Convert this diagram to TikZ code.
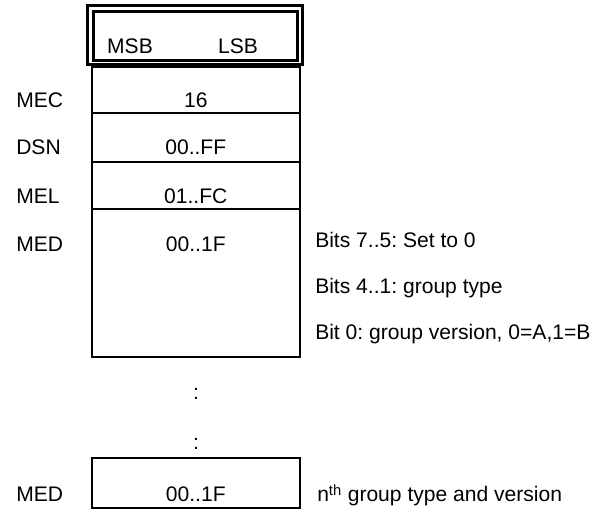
\documentclass[tikz,border=0pt]{standalone}
\usepackage{fontspec}
\setmainfont{Liberation Sans}
\frenchspacing
\usetikzlibrary{positioning}
\tikzset{
  cell/.style={draw=black, line width=1.5pt, minimum width=156.4pt, inner sep=0pt, outer sep=0pt, anchor=north west},
  frame/.style={draw=black, line width=2.25pt},
  val/.style={anchor=base, inner sep=0pt, font=\fontsize{15.8}{19}\selectfont},
  lbl/.style={anchor=base west, inner sep=0pt, font=\fontsize{15.8}{19}\selectfont}
}

\begin{document}
\begin{tikzpicture}[x=0.75pt, y=-0.75pt]
\useasboundingbox (0,0) rectangle (597,513);
% header
\draw[frame] (87.5,5.5) rectangle (302.5,64.5);
\draw[frame] (93.5,11.5) rectangle (297.5,60.5);
\node[val] (msb) at (130,54) {MSB};
\node[val] (lsb) at (238,54) {LSB};
% table
\node[cell, minimum height=34.5pt] (mec) at (91.5,67) {};
\node[cell, minimum height=36.75pt] (dsn) at (mec.south west) {};
\node[cell, minimum height=35.25pt] (mel) at (dsn.south west) {};
\node[cell, minimum height=111pt] (med) at (mel.south west) {};
\node[val] (mecval) at ([yshift=3.75pt]mec.south) {16};
\node[val] (dsnval) at ([yshift=5.25pt]dsn.south) {00..FF};
\node[val] (melval) at ([yshift=3.75pt]mel.south) {01..FC};
\node[val] (medval) at ([yshift=-32.25pt]med.north) {00..1F};
\node[lbl] (meclbl) at (16,108) {MEC};
\node[lbl] (dsnlbl) at (16,155) {DSN};
\node[lbl] (mellbl) at (16,204) {MEL};
\node[lbl] (medlbl) at (16,252) {MED};
\node[lbl] (bits75) at (315,248) {Bits 7..5: Set to 0};
\node[lbl] (bits41) at (315,294) {Bits 4..1: group type};
\node[lbl] (bit0) at (315,340) {Bit 0: group version, 0=A,1=B};
% dots
\node[val] (dots1) at (196,400) {:};
\node[val] (dots2) at (196,450) {:};
% last group
\node[cell, minimum height=37.5pt] (medn) at (91.5,458) {};
\node[val] (mednval) at ([yshift=4.5pt]medn.south) {00..1F};
\node[lbl] (mednlbl) at (16,502) {MED};
\node[lbl] (nth) at (317,502) {n\textsuperscript{th} group type and version};
\end{tikzpicture}
\end{document}
